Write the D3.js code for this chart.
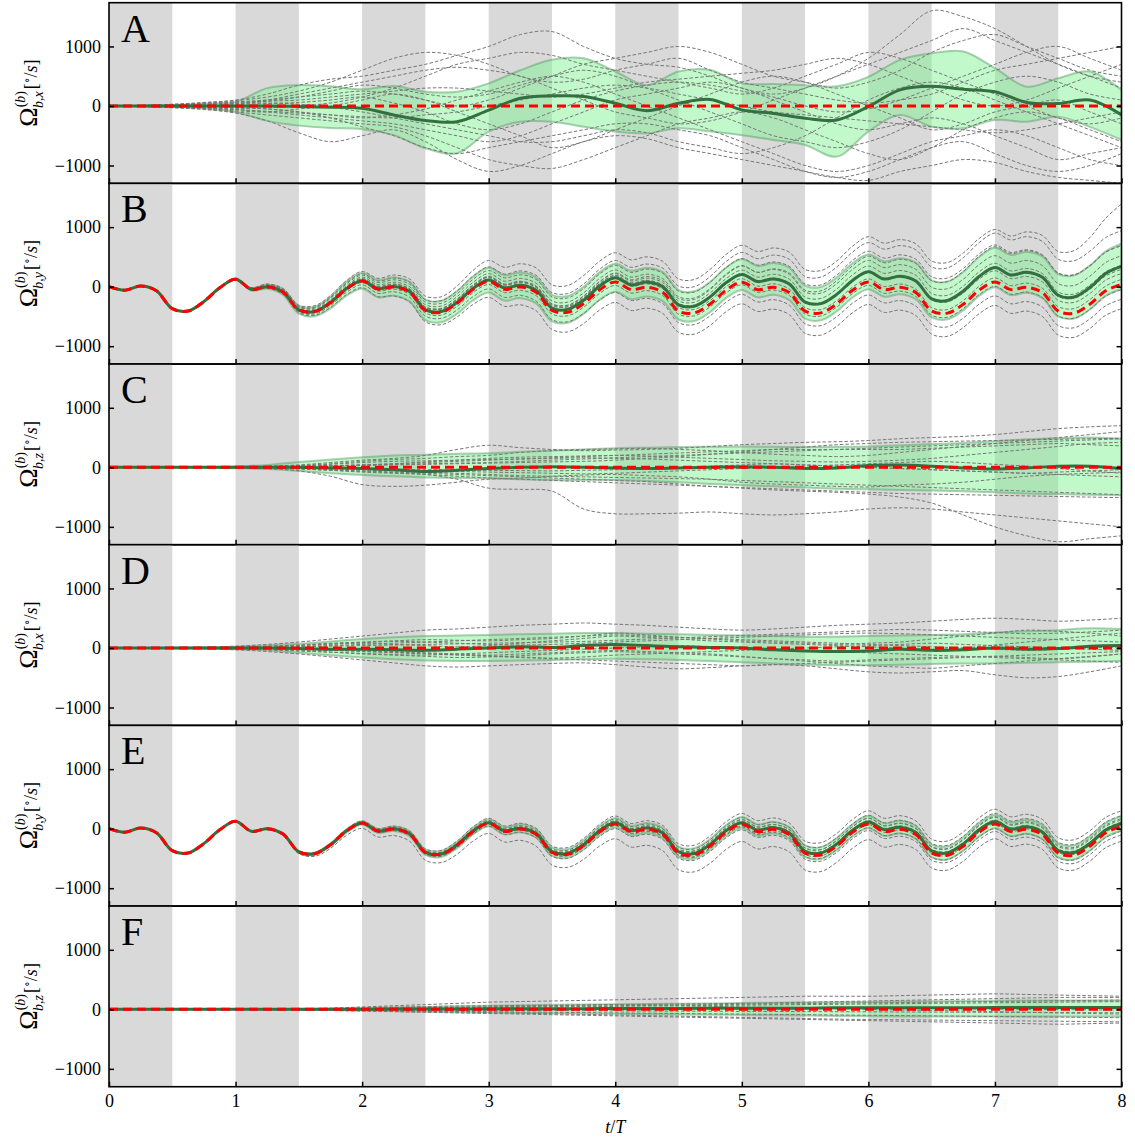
<!DOCTYPE html>
<html><head><meta charset="utf-8">
<script src="https://cdn.jsdelivr.net/npm/d3@7"></script>
<style>body{margin:0;background:#fff}svg text{font-family:"Liberation Serif","DejaVu Serif",serif;fill:#000}</style>
</head><body><svg id="chart" width="1135" height="1141"></svg>
<script>
// ---------- categories / ticks ----------
const panelLetters = ["A","B","C","D","E","F"];
const panelComps = ["x","y","z","x","y","z"];
const xTickValues = [0,1,2,3,4,5,6,7,8];
const yTickValues = [-1000,0,1000];
const stimStarts = [0,1,2,3,4,5,6,7];
const stimLength = 0.5;
const yDomain = [-1300,1735];
const xDomain = [0,8];

// ---------- reference wave (B,E), t = 0..8 step 1/8 ----------
const refWave = [0,-60,10,-70,-370,-410,-250,-20,
 125,-45,0,-90,-390,-420,-270,-40,
 95,-40,-5,-90,-400,-430,-280,-50,
 90,-45,-5,-95,-400,-430,-285,-55,
 80,-50,-10,-95,-410,-440,-290,-60,
 75,-50,-10,-100,-410,-440,-290,-60,
 80,-50,-10,-100,-410,-445,-295,-60,
 80,-50,-10,-100,-410,-445,-295,-70,
 40];
const refFlatT = [0,8];
const refFlat = [0,0];

// ---------- panel A (t step 1/4) ----------
const aMean = [0,0,0,0,0,0,-10,-20,-40,-150,-245,-265,-70,130,170,160,45,-80,45,110,-65,-125,-205,-235,-10,270,330,280,240,60,40,100,-150];
const aUpper = [0,5,15,40,70,300,350,330,280,335,240,240,380,600,775,800,580,350,580,605,380,370,350,330,490,775,885,915,635,325,465,580,270];
const aLower = [0,-5,-15,-40,-100,-250,-330,-370,-390,-490,-710,-795,-430,-265,-265,-350,-430,-460,-375,-430,-490,-570,-655,-850,-430,-150,-350,-375,-235,-265,-180,-350,-570];
const aMembers = [
 [0,10,30,60,100,200,350,450,500,600,700,850,1000,1200,1250,1000,800,700,650,500,300,200,300,500,800,1200,1600,1500,1300,1000,700,500,400],
 [0,-10,-30,-60,-120,-250,-450,-600,-500,-400,-600,-900,-1100,-1000,-800,-600,-500,-550,-700,-800,-900,-1000,-1100,-1200,-1250,-1100,-1000,-900,-950,-1100,-1200,-1250,-1300],
 [0,5,20,50,90,150,250,400,600,800,900,850,700,500,400,450,600,700,800,600,400,300,200,100,50,100,200,400,600,700,800,900,1000],
 [0,-5,-20,-40,-80,-100,-50,0,100,200,100,-100,-300,-500,-700,-600,-400,-200,0,200,400,500,400,200,0,-200,-400,-300,-100,0,100,-100,-300],
 [0,8,25,45,70,100,150,200,250,200,100,0,100,300,500,700,800,900,1000,900,700,500,400,300,400,600,900,1100,1200,1000,800,600,500],
 [0,-8,-25,-50,-100,-150,-200,-250,-300,-350,-500,-700,-900,-1000,-1050,-900,-700,-500,-300,-200,-100,-200,-400,-600,-800,-900,-700,-400,-200,-100,-200,-400,-600],
 [0,3,10,20,40,80,150,250,350,300,200,150,200,350,500,600,500,300,100,-100,-300,-500,-600,-700,-600,-400,-100,200,400,500,400,200,100],
 [0,-3,-10,-20,-30,-50,-100,-150,-200,-150,-50,100,250,400,500,400,200,0,-200,-400,-600,-800,-1000,-1100,-1000,-800,-600,-500,-400,-500,-700,-900,-1000],
 [0,6,15,30,50,100,200,300,400,500,600,650,600,500,300,100,-100,-200,-300,-250,-100,100,300,500,700,900,1100,1300,1100,900,700,500,300],
 [0,-6,-15,-30,-60,-100,-150,-200,-250,-300,-400,-500,-600,-500,-300,-100,100,200,300,400,300,100,-100,-300,-400,-300,-200,-300,-500,-700,-900,-800,-700],
 [0,4,12,25,40,50,30,-20,-100,-200,-300,-400,-500,-600,-600,-500,-400,-450,-600,-700,-800,-700,-500,-200,100,300,400,300,100,-100,-300,-500,-700],
 [0,-4,-12,-25,-40,-30,0,50,150,300,500,700,800,900,850,700,600,500,400,300,200,300,500,700,900,800,600,400,200,0,-200,-300,-200],
 [0,2,8,15,25,40,60,100,150,50,-100,-300,-400,-300,-100,100,250,350,400,350,250,150,0,-100,-50,100,300,500,700,900,1000,800,600],
 [0,-2,-8,-15,-25,-50,-100,-200,-350,-500,-700,-800,-700,-600,-500,-400,-300,-300,-400,-500,-700,-900,-1100,-1200,-1100,-900,-700,-600,-800,-1000,-1100,-1000,-800],
 [0,5,15,35,60,80,100,150,200,250,300,300,250,200,150,200,300,400,450,500,550,600,700,800,700,500,300,100,0,100,300,500,700],
 [0,-5,-15,-35,-60,-90,-120,-150,-180,-200,-150,-100,0,100,200,300,350,300,200,100,0,-100,-150,-200,-250,-300,-350,-400,-450,-400,-300,-200,-100]
];

// ---------- panel B (deviation from reference, t step 1/8) ----------
const bMeanDev = [0,0,0,0,0,0,0,0,0,
 0,0,0,0,2,3,4,5,
 6,7,8,10,12,14,17,20,
 24,28,33,40,48,56,63,70,
 78,86,95,105,112,118,124,130,
 135,140,145,150,155,160,165,170,
 178,186,195,205,213,222,231,240,
 246,252,258,265,272,280,290,300];
const bHalf = [0,0,0,0,0,2,4,6,10,
 20,35,50,65,80,100,120,135,
 145,155,165,172,180,190,200,210,
 213,216,219,222,225,228,232,235,
 238,241,244,247,250,253,256,260,
 264,268,272,276,280,284,288,292,
 297,302,307,312,317,322,327,332,
 338,344,350,356,362,368,374,380];
const bMembersDev = [
 [0,0,0,0,0,5,10,15,20, 30,45,60,80,100,120,140,160, 180,200,220,240,260,290,320,350, 370,390,410,430,450,470,480,490, 500,510,520,540,560,580,600,620, 640,660,680,700,710,720,740,760, 780,800,820,840,850,860,870,880, 900,930,960,1000,1050,1120,1220,1350],
 [0,0,0,0,0,3,6,10,15, 22,32,45,60,75,90,105,120, 135,150,165,180,195,210,225,240, 255,270,285,300,315,330,345,360, 375,390,405,420,440,460,480,500, 520,540,560,580,600,620,640,660, 680,700,720,740,760,780,800,820, 835,850,860,870,880,890,895,900],
 [0,0,0,0,0,2,5,8,12, 18,26,36,48,60,72,84,96, 108,120,130,140,150,160,170,180, 192,204,216,228,240,252,264,276, 290,305,320,335,350,365,380,395, 410,425,440,455,470,485,500,515, 530,545,560,575,590,600,610,620, 625,630,635,640,645,648,650,650],
 [0,0,0,0,0,1,3,6,10, 15,20,26,32,40,48,56,64, 72,80,88,96,104,112,120,128, 136,144,152,160,170,180,190,200, 210,220,230,240,250,260,270,280, 290,300,310,320,330,340,350,360, 370,380,390,400,410,420,430,440, 445,450,455,460,465,470,475,480],
 [0,0,0,0,0,1,2,4,6, 9,12,16,20,25,30,35,40, 45,50,55,60,66,72,78,84, 90,96,102,108,115,122,130,138, 146,154,162,170,178,186,194,202, 210,218,226,234,242,250,258,266, 274,282,290,296,300,304,308,312, 314,316,318,320,320,320,320,320],
 [0,0,0,0,0,0,1,2,4, 6,9,12,16,20,25,30,35, 40,45,50,55,60,65,70,75, 80,84,88,92,96,100,104,108, 112,116,120,124,128,132,136,140, 144,148,152,156,160,164,168,172, 176,180,184,186,188,188,188,186, 184,182,180,180,180,180,180,180],
 [0,0,0,0,0,0,-1,-2,-3, -5,-7,-9,-10,-10,-8,-5,0, 5,10,15,20,25,30,35,40, 45,48,50,52,54,55,56,57, 58,58,58,58,58,58,58,58, 58,58,58,58,56,54,52,50, 52,54,56,58,60,62,64,66, 68,70,72,74,76,78,80,82],
 [0,0,0,0,0,-1,-3,-6,-10, -15,-20,-26,-32,-40,-48,-56,-64, -72,-80,-88,-96,-104,-112,-120,-128, -136,-142,-148,-154,-160,-166,-172,-178, -182,-186,-190,-194,-198,-200,-202,-204, -206,-208,-210,-212,-214,-216,-218,-220, -222,-224,-226,-228,-230,-232,-234,-236, -238,-240,-242,-244,-246,-248,-250,-252],
 [0,0,0,0,0,-2,-5,-9,-14, -20,-28,-38,-50,-64,-80,-96,-112, -130,-150,-170,-190,-210,-230,-250,-270, -285,-300,-310,-320,-330,-335,-340,-345, -350,-352,-354,-356,-358,-360,-362,-364, -366,-368,-370,-372,-374,-376,-378,-380, -382,-384,-386,-388,-390,-392,-394,-396, -398,-400,-402,-404,-406,-408,-410,-412],
 [0,0,0,0,0,1,2,3,5, 7,10,13,16,20,24,28,32, 36,40,44,48,52,56,60,65, 70,75,80,85,90,95,100,105, 110,115,120,125,130,135,140,145, 150,155,160,165,170,175,180,185, 190,195,200,205,210,215,220,225, 230,235,240,245,248,250,250,250],
 [0,0,0,0,0,0,-1,-2,-4, -6,-8,-10,-13,-16,-20,-24,-28, -32,-36,-40,-44,-48,-50,-52,-54, -55,-56,-57,-58,-59,-60,-60,-60, -58,-56,-54,-52,-50,-48,-46,-44, -44,-46,-48,-50,-52,-54,-56,-58, -62,-64,-66,-68,-70,-72,-74,-76, -78,-80,-82,-84,-86,-88,-90,-92],
 [0,0,0,0,0,0,0,1,2, 4,6,8,11,14,18,22,26, 30,36,42,48,54,60,66,72, 80,90,100,110,120,130,140,150, 165,180,195,210,225,240,255,270, 290,310,330,350,370,390,410,430, 450,470,490,510,530,550,570,590, 605,615,625,635,640,645,648,650]
];

// ---------- panel C (t step 1/4) ----------
const cMean = [0,0,0,0,0,0,0,-10,-20,-40,-70,-50,-20,0,10,0,-10,-20,-10,0,10,0,-20,-10,30,40,20,-10,-30,-10,20,20,-20];
const cUpper = [0,0,2,5,15,40,90,130,170,200,210,230,235,260,280,300,320,330,340,345,350,345,340,345,350,370,390,410,440,470,490,500,480];
const cLower = [0,0,-2,-5,-15,-30,-60,-100,-130,-150,-170,-180,-185,-200,-215,-215,-215,-230,-250,-280,-300,-320,-340,-360,-370,-380,-390,-400,-420,-440,-450,-460,-470];
const cMembers = [
 [0,0,2,5,10,20,40,80,120,150,200,300,370,330,300,280,290,300,320,350,380,400,420,430,450,480,500,520,550,600,650,680,700],
 [0,0,-2,-5,-10,-25,-60,-150,-290,-320,-300,-250,-200,-180,-150,-130,-120,-140,-160,-200,-250,-280,-300,-320,-330,-300,-280,-250,-200,-150,-120,-100,-80],
 [0,0,1,3,8,15,30,60,100,130,150,180,200,250,280,300,310,320,300,280,250,220,200,180,200,250,300,350,400,450,500,550,600],
 [0,0,-1,-3,-8,-15,-30,-50,-70,-90,-120,-200,-350,-370,-400,-700,-780,-780,-770,-750,-780,-800,-780,-750,-700,-680,-700,-750,-800,-850,-900,-950,-1000],
 [0,0,1,2,5,10,20,30,40,50,60,70,80,100,120,140,160,180,200,220,240,260,280,300,320,340,360,380,400,420,440,460,480],
 [0,0,-1,-2,-5,-10,-20,-40,-60,-80,-100,-120,-140,-160,-180,-200,-220,-240,-280,-320,-350,-380,-400,-420,-450,-500,-600,-800,-1000,-1150,-1250,-1200,-1150],
 [0,0,1,2,4,8,15,25,40,60,90,120,150,170,180,190,200,190,170,150,130,110,100,90,100,120,150,200,250,300,350,400,420],
 [0,0,-1,-2,-4,-8,-15,-25,-40,-50,-60,-70,-80,-90,-100,-110,-100,-80,-60,-40,-20,0,20,40,60,80,100,80,50,20,-20,-60,-100],
 [0,0,1,3,6,12,25,50,80,100,110,120,130,140,150,160,150,140,120,100,80,60,40,20,0,-20,-40,-60,-80,-100,-120,-140,-160],
 [0,0,-1,-3,-6,-12,-25,-50,-80,-100,-120,-150,-180,-200,-220,-240,-260,-280,-300,-320,-340,-360,-380,-400,-420,-440,-450,-460,-470,-480,-490,-500,-510],
 [0,0,1,2,3,6,10,20,30,40,50,60,70,80,90,100,120,150,180,220,260,300,340,380,400,420,430,440,450,460,470,480,490],
 [0,0,-1,-2,-3,-6,-10,-20,-30,-35,-40,-45,-50,-55,-60,-50,-40,-20,0,20,40,60,40,20,0,-20,-40,-60,-80,-100,-80,-60,-40],
 [0,0,0,1,3,6,12,24,40,60,80,100,120,140,160,180,200,220,240,260,280,300,300,300,300,300,320,340,360,380,400,380,360],
 [0,0,0,-1,-3,-6,-12,-24,-40,-60,-80,-100,-120,-140,-150,-160,-170,-180,-190,-200,-220,-240,-260,-280,-300,-320,-340,-360,-380,-400,-420,-440,-460]
];

// ---------- panel D (t step 1/4) ----------
const dMean = [0,0,0,0,0,0,-10,-20,-20,-30,-40,-20,0,20,10,40,60,40,20,10,0,-30,-50,-60,-50,-20,-40,-30,0,-20,-10,30,40];
const dUpper = [0,0,5,10,20,40,70,110,150,180,200,210,220,230,240,250,250,240,230,220,210,200,190,190,200,210,220,230,260,280,300,330,320];
const dLower = [0,0,-5,-10,-20,-40,-80,-120,-160,-190,-210,-220,-220,-210,-200,-190,-180,-190,-200,-220,-240,-260,-280,-290,-290,-280,-270,-260,-260,-250,-240,-230,-220];
const dMembers = [
 [0,0,5,15,30,60,100,150,200,250,300,320,350,380,400,420,400,380,350,320,300,320,350,380,400,420,450,480,500,480,450,470,500],
 [0,0,-5,-15,-30,-60,-100,-150,-200,-250,-300,-320,-300,-280,-260,-250,-280,-320,-350,-330,-300,-280,-300,-350,-400,-420,-400,-380,-450,-500,-480,-400,-300],
 [0,0,3,8,15,30,50,80,100,120,140,130,120,140,160,200,250,220,180,150,120,100,80,60,80,100,150,200,250,300,280,250,200],
 [0,0,-3,-8,-15,-30,-50,-70,-100,-120,-140,-160,-150,-130,-100,-80,-60,-80,-100,-120,-150,-180,-200,-220,-200,-180,-160,-150,-140,-160,-180,-150,-100],
 [0,0,2,5,10,20,40,60,80,60,40,20,40,80,120,160,200,180,150,120,100,80,60,40,20,0,-20,0,50,100,150,200,250],
 [0,0,-2,-5,-10,-20,-30,-40,-50,-70,-90,-110,-130,-150,-170,-150,-120,-100,-80,-60,-40,-20,0,20,40,60,80,60,40,20,0,-20,-40],
 [0,0,1,3,6,12,20,30,40,50,60,70,80,90,100,110,130,150,170,190,210,230,250,270,290,310,300,280,260,240,250,270,300],
 [0,0,-1,-3,-6,-12,-20,-30,-40,-60,-80,-100,-120,-100,-80,-60,-40,-60,-80,-100,-140,-180,-220,-260,-300,-320,-340,-300,-260,-220,-180,-140,-100],
 [0,0,2,6,12,25,45,70,90,110,100,80,60,50,60,80,100,120,140,160,180,200,220,240,250,240,220,200,180,160,140,120,100],
 [0,0,-2,-6,-12,-25,-45,-70,-90,-110,-120,-100,-80,-60,-40,-20,0,20,40,20,0,-20,-40,-60,-80,-100,-120,-140,-160,-180,-200,-220,-240],
 [0,0,1,4,8,15,25,40,60,80,100,120,140,160,180,200,220,200,180,160,140,120,100,80,60,40,20,0,-20,-40,-20,0,20],
 [0,0,-1,-4,-8,-15,-25,-40,-60,-80,-100,-120,-140,-160,-180,-200,-220,-240,-260,-280,-300,-280,-260,-240,-220,-200,-180,-160,-140,-120,-100,-80,-60]
];

// ---------- panel E (deviation from reference, t step 1/8) ----------
const eMeanDev = [0,0,0,0,0,0,0,0,0,
 0,0,0,0,0,0,0,0,
 1,2,3,4,5,6,8,10,
 11,12,13,14,15,16,17,18,
 19,20,21,22,23,24,25,25,
 26,27,28,29,30,31,32,33,
 34,35,36,37,38,39,40,40,
 41,42,43,44,45,46,48,50];
const eHalf = [0,0,0,0,0,0,1,2,4,
 6,9,12,15,18,22,26,30,
 34,38,42,46,50,54,57,60,
 63,66,69,72,74,76,78,80,
 82,84,86,88,90,92,94,95,
 96,97,98,99,100,101,103,105,
 106,107,108,109,110,112,114,115,
 116,117,118,118,119,119,120,120];
const eMembersDev = [
 [0,0,0,0,0,0,1,2,3, 5,8,12,16,20,25,30,36, 42,48,54,60,66,72,78,84, 90,96,102,108,114,120,126,132, 138,144,150,156,162,168,174,180, 185,190,195,200,205,210,215,220, 225,228,231,234,237,240,243,246, 249,252,255,257,258,259,260,260],
 [0,0,0,0,0,0,1,1,2, 3,5,7,9,12,15,18,21, 24,27,30,33,36,40,44,48, 52,56,60,64,68,72,76,80, 84,88,92,96,100,104,108,112, 116,120,124,128,132,136,140,144, 148,152,156,160,164,168,172,176, 178,180,180,180,180,180,180,180],
 [0,0,0,0,0,0,0,1,1, 2,3,4,6,8,10,12,14, 16,18,20,22,24,26,28,30, 33,36,39,42,45,48,51,54, 57,60,63,66,69,72,75,78, 80,82,84,86,88,90,92,94, 96,98,100,102,104,106,108,110, 110,110,110,110,110,110,110,110],
 [0,0,0,0,0,0,0,0,1, 1,2,3,4,5,6,7,8, 10,12,14,16,18,20,22,24, 26,28,30,32,34,36,38,40, 41,42,43,44,45,46,47,48, 49,50,51,52,53,54,55,56, 57,58,59,60,61,62,63,64, 65,66,67,68,69,70,71,72],
 [0,0,0,0,0,0,0,0,-1, -1,-2,-3,-4,-5,-6,-7,-8, -9,-10,-11,-12,-13,-14,-15,-16, -17,-18,-19,-20,-21,-22,-23,-24, -25,-26,-27,-28,-29,-30,-30,-30, -28,-26,-24,-22,-20,-18,-16,-14, -12,-10,-8,-6,-4,-2,0,2, 4,6,8,10,12,14,16,18],
 [0,0,0,0,0,0,0,-1,-2, -3,-5,-7,-9,-12,-15,-18,-21, -24,-27,-30,-33,-36,-40,-44,-48, -52,-56,-60,-64,-68,-72,-76,-80, -82,-84,-86,-88,-90,-92,-94,-96, -98,-100,-102,-104,-106,-108,-110,-112, -114,-116,-118,-120,-122,-124,-126,-128, -130,-132,-134,-136,-138,-140,-142,-144],
 [0,0,0,0,0,0,-1,-2,-4, -7,-12,-20,-30,-45,-60,-75,-90, -100,-110,-120,-130,-140,-150,-160,-170, -180,-190,-200,-210,-220,-230,-240,-250, -260,-270,-275,-280,-285,-290,-290,-290, -290,-290,-290,-285,-280,-275,-270,-265, -260,-255,-250,-250,-250,-250,-250,-250, -250,-250,-250,-250,-250,-250,-250,-250],
 [0,0,0,0,0,0,0,1,2, 3,4,5,6,7,8,9,10, 12,14,16,18,20,22,24,26, 29,32,35,38,41,44,47,50, 53,56,59,62,65,68,71,74, 77,80,83,86,89,92,95,98, 101,104,107,110,113,116,119,122, 124,126,128,130,130,130,130,130],
 [0,0,0,0,0,0,0,-1,-1, -2,-3,-4,-5,-6,-7,-8,-9, -10,-11,-12,-13,-14,-15,-16,-17, -18,-20,-22,-24,-26,-28,-30,-32, -34,-36,-38,-40,-42,-44,-46,-48, -50,-52,-54,-56,-58,-60,-62,-64, -66,-68,-70,-72,-74,-76,-78,-80, -80,-80,-80,-80,-80,-80,-80,-80]
];

// ---------- panel F (t step 1/4) ----------
const fMean = [0,0,0,0,0,0,0,0,0,5,5,5,10,10,10,10,15,15,15,20,20,20,20,25,25,25,25,25,30,30,30,30,30];
const fUpper = [0,0,0,0,0,2,5,10,20,30,40,50,60,70,75,80,85,90,95,100,105,110,115,120,125,130,135,140,145,150,150,150,150];
const fLower = [0,0,0,0,0,-2,-5,-10,-20,-30,-40,-50,-55,-60,-65,-70,-75,-80,-85,-90,-95,-100,-105,-110,-115,-120,-120,-120,-120,-120,-120,-120,-120];
const fMembers = [
 [0,0,0,1,3,6,10,20,40,60,80,100,120,130,140,150,160,170,180,190,200,210,220,220,220,230,240,250,260,250,240,230,220],
 [0,0,0,-1,-3,-6,-10,-20,-30,-40,-50,-60,-70,-80,-90,-100,-110,-120,-130,-140,-150,-160,-170,-180,-190,-200,-210,-220,-230,-240,-250,-240,-230],
 [0,0,0,1,2,4,8,15,25,35,45,55,60,65,70,75,80,85,90,95,100,110,120,130,140,150,160,170,180,190,200,200,200],
 [0,0,0,-1,-2,-4,-8,-15,-20,-25,-30,-35,-40,-45,-50,-55,-60,-65,-70,-75,-80,-85,-90,-95,-100,-105,-110,-115,-120,-125,-130,-135,-140],
 [0,0,0,0,1,2,4,8,12,18,24,30,36,42,48,54,60,66,72,78,84,90,96,102,108,114,120,126,132,138,144,150,156],
 [0,0,0,0,-1,-2,-4,-8,-12,-16,-20,-24,-20,-16,-12,-8,-4,0,4,8,12,16,20,24,20,16,12,8,4,0,-4,-8,-12],
 [0,0,0,1,2,3,5,10,15,20,25,30,40,50,60,70,80,70,60,50,40,30,20,10,0,-10,-20,-30,-40,-50,-60,-70,-80],
 [0,0,0,-1,-2,-3,-5,-10,-15,-25,-35,-45,-55,-65,-75,-85,-95,-105,-115,-125,-135,-145,-155,-165,-170,-175,-180,-185,-190,-195,-200,-205,-210],
 [0,0,0,0,1,2,3,6,10,15,20,25,30,35,40,45,50,55,60,65,70,75,80,85,90,95,100,105,110,115,120,125,130],
 [0,0,0,0,-1,-2,-3,-6,-10,-12,-14,-16,-18,-20,-22,-24,-26,-28,-30,-32,-34,-36,-38,-40,-42,-44,-46,-48,-50,-52,-54,-56,-58]
];

// ---------- build ----------
const tFine = d3.range(refWave.length).map(i => i / 8);
const tCoarse = d3.range(aMean.length).map(i => i / 4);

function absPanel(mean, up, lo, members) {
  return {t: tCoarse, mean, up, lo, members, refT: refFlatT, ref: refFlat};
}
function devPanel(meanDev, half, membersDev) {
  const mean = refWave.map((r, i) => r + meanDev[i]);
  return {t: tFine, mean,
    up: mean.map((m, i) => m + half[i]),
    lo: mean.map((m, i) => m - half[i]),
    members: membersDev.map(dv => refWave.map((r, i) => r + dv[i])),
    refT: tFine, ref: refWave};
}
const panels = [
  absPanel(aMean, aUpper, aLower, aMembers),
  devPanel(bMeanDev, bHalf, bMembersDev),
  absPanel(cMean, cUpper, cLower, cMembers),
  absPanel(dMean, dUpper, dLower, dMembers),
  devPanel(eMeanDev, eHalf, eMembersDev),
  absPanel(fMean, fUpper, fLower, fMembers)
];

const svg = d3.select("#chart");
const left = 109, right = 1121.5, top0 = 2.7, panelH = 180.67;
const x = d3.scaleLinear().domain(xDomain).range([left, right]);
const fmt = d => d < 0 ? "\u2212" + Math.abs(d) : String(d);

panels.forEach((p, k) => {
  const top = top0 + k * panelH, bottom = top + panelH;
  const y = d3.scaleLinear().domain(yDomain).range([bottom, top]);
  const g = svg.append("g");
  const cid = "clip" + k;
  g.append("clipPath").attr("id", cid).append("rect")
    .attr("x", left).attr("y", top).attr("width", right - left).attr("height", panelH);
  const pg = g.append("g").attr("clip-path", `url(#${cid})`);

  pg.selectAll("rect.stim").data(stimStarts).join("rect")
    .attr("x", d => x(d)).attr("y", top)
    .attr("width", d => x(d + stimLength) - x(d)).attr("height", panelH)
    .attr("fill", "#d9d9d9");

  const curve = d3.curveCatmullRom.alpha(0.5);
  const area = d3.area().x((d, i) => x(p.t[i])).y0((d, i) => y(p.lo[i])).y1((d, i) => y(p.up[i])).curve(curve);
  const line = (ts) => d3.line().x((d, i) => x(ts[i])).y(d => y(d)).curve(curve);

  pg.append("path").attr("d", area(p.mean)).attr("fill", "rgb(125,242,145)").attr("fill-opacity", 0.48);
  [p.up, p.lo].forEach(arr => pg.append("path").attr("d", line(p.t)(arr))
    .attr("fill", "none").attr("stroke", "rgb(80,150,95)").attr("stroke-opacity", 0.45).attr("stroke-width", 2));

  p.members.forEach(m => pg.append("path").attr("d", line(p.t)(m))
    .attr("fill", "none").attr("stroke", "#777").attr("stroke-width", 1)
    .attr("stroke-dasharray", "3.5,2"));

  pg.append("path").attr("d", line(p.t)(p.mean)).attr("fill", "none")
    .attr("stroke", "#33703f").attr("stroke-width", 3);
  pg.append("path").attr("d", line(p.refT)(p.ref)).attr("fill", "none")
    .attr("stroke", "#ff0000").attr("stroke-width", 3).attr("stroke-dasharray", "9,5");

  // axes
  const ax = g.append("g").attr("transform", `translate(${left},0)`)
    .call(d3.axisLeft(y).tickValues(yTickValues).tickSize(-5).tickPadding(8).tickFormat(fmt));
  const ar = g.append("g").attr("transform", `translate(${right},0)`)
    .call(d3.axisRight(y).tickValues(yTickValues).tickSize(-5).tickFormat(""));
  const ab = g.append("g").attr("transform", `translate(0,${bottom})`)
    .call(d3.axisBottom(x).tickValues(xTickValues).tickSize(-5).tickPadding(7.5)
      .tickFormat(k === panels.length - 1 ? d => String(d) : ""));
  [ax, ar, ab].forEach(a => {
    a.select(".domain").remove();
    a.selectAll("line").attr("stroke", "#000").attr("stroke-width", 1.5);
    a.selectAll("text").attr("font-size", 18).attr("font-family", "Liberation Serif, serif").attr("fill", "#000");
  });

  g.append("rect").attr("x", left).attr("y", top).attr("width", right - left).attr("height", panelH)
    .attr("fill", "none").attr("stroke", "#000").attr("stroke-width", 1.6);

  g.append("text").attr("x", 121).attr("y", top + 39).attr("font-size", 40).text(panelLetters[k]);

  const lab = g.append("text").attr("transform", `translate(37,${top + panelH / 2}) rotate(-90)`)
    .attr("text-anchor", "middle").attr("font-size", 26);
  lab.append("tspan").text("\u03A9");
  const sup = lab.append("tspan").attr("font-size", 14).attr("dy", -12);
  sup.append("tspan").text("(");
  sup.append("tspan").attr("font-style", "italic").text("b");
  sup.append("tspan").text(")");
  lab.append("tspan").attr("font-size", 14).attr("font-style", "italic").attr("dx", -17).attr("dy", 18)
    .text("b," + panelComps[k]);
  lab.append("tspan").attr("font-size", 18).attr("dx", 2).attr("dy", -6).text("[");
  lab.append("tspan").attr("font-size", 12).attr("dy", -6).text("\u2218");
  lab.append("tspan").attr("font-size", 18).attr("dy", 6).text("/");
  lab.append("tspan").attr("font-size", 18).attr("font-style", "italic").text("s");
  lab.append("tspan").attr("font-size", 18).text("]");
});

const xl = svg.append("text").attr("x", x(4)).attr("y", 1133).attr("text-anchor", "middle").attr("font-size", 18);
xl.append("tspan").attr("font-style", "italic").text("t");
xl.append("tspan").text("/");
xl.append("tspan").attr("font-style", "italic").text("T");
</script></body></html>
